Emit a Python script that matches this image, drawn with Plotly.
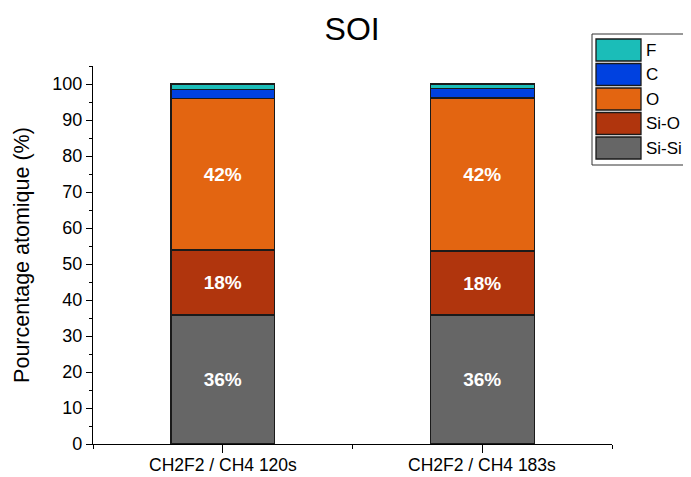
import plotly.graph_objects as go

# data
categories = ["CH2F2 / CH4 120s", "CH2F2 / CH4 183s"]
series = ["Si-Si", "Si-O", "O", "C", "F"]
si_si = [35.8, 35.8]
si_o = [18.1, 17.8]
o = [42.0, 42.5]
c = [2.6, 2.7]
f = [1.5, 1.2]
labels_si_si = ["36%", "36%"]
labels_si_o = ["18%", "18%"]
labels_o = ["42%", "42%"]

colors = {
    "Si-Si": "#666666",
    "Si-O": "#B0350D",
    "O": "#E36511",
    "C": "#0041E0",
    "F": "#1BBDB8",
}
values = {"Si-Si": si_si, "Si-O": si_o, "O": o, "C": c, "F": f}
texts = {"Si-Si": labels_si_si, "Si-O": labels_si_o, "O": labels_o}

x = list(range(len(categories)))

fig = go.Figure()
for name in series:
    fig.add_trace(go.Bar(
        x=x,
        y=values[name],
        name=name,
        width=0.4,
        marker=dict(color=colors[name], line=dict(color="#1a1a1a", width=1.3)),
        text=texts.get(name),
        textposition="inside" if name in texts else "none",
        insidetextanchor="middle",
        textfont=dict(family="Arial, Liberation Sans", size=19, color="white", weight="bold"),
        showlegend=False,
    ))


# page is drawn with an 8px body margin, so work in window pixels
def px(vx):
    return (vx - 93) / 519


def py(vy):
    return (444 - vy) / 378


# custom legend (box with large swatches), top entry first
fig.add_shape(type="rect", xref="paper", yref="paper",
              x0=px(592), x1=px(720), y0=py(165), y1=py(34),
              line=dict(color="#333", width=1), fillcolor="white", layer="below")
for i, name in enumerate(reversed(series)):
    top = 39 + i * 24.5
    fig.add_shape(type="rect", xref="paper", yref="paper",
                  x0=px(596), x1=px(641), y0=py(top + 22), y1=py(top),
                  line=dict(color="#1a1a1a", width=1.3), fillcolor=colors[name])
    fig.add_annotation(xref="paper", yref="paper",
                       x=px(644), y=py(top + 11),
                       text=name, showarrow=False, xanchor="left", yanchor="middle",
                       font=dict(family="Arial, Liberation Sans", size=17, color="black"))

# category labels under the axis (kept clear of the window's bottom edge)
for xi, cat in zip(x, categories):
    fig.add_annotation(xref="x", yref="paper", x=xi, y=0, yanchor="top",
                       yshift=-9, text=cat, showarrow=False,
                       font=dict(family="Arial, Liberation Sans", size=17.5, color="black"))

fig.update_layout(
    width=691, height=477,
    barmode="stack",
    plot_bgcolor="white", paper_bgcolor="white",
    margin=dict(l=85, r=87, t=58, b=41),
    font=dict(family="Arial, Liberation Sans", color="black"),
    title=dict(text="SOI", x=0.498, xanchor="center", y=0.957, yanchor="middle",
               font=dict(size=32, color="black")),
    xaxis=dict(
        range=[-0.5, 1.5],
        tickvals=x, showticklabels=False,
        ticks="outside", ticklen=8, tickwidth=1.3, tickcolor="black",
        showline=True, linecolor="black", linewidth=1.3,
        showgrid=False, zeroline=False, automargin=False,
        minor=dict(tickvals=[-0.5, 0.5, 1.5], ticks="outside", ticklen=4,
                   tickwidth=1.3, tickcolor="black", showgrid=False),
    ),
    yaxis=dict(
        range=[0, 105],
        tickmode="linear", tick0=0, dtick=10,
        ticks="outside", ticklen=6, tickwidth=1.3, tickcolor="black",
        showline=True, linecolor="black", linewidth=1.3,
        showgrid=False, zeroline=False, automargin=False,
        tickfont=dict(size=18),
        minor=dict(dtick=5, ticks="outside", ticklen=3, tickwidth=1.3,
                   tickcolor="black", showgrid=False),
        title=dict(text="Pourcentage atomique (%)", font=dict(size=21.5), standoff=16),
    ),
)

fig.write_html("out.html")
